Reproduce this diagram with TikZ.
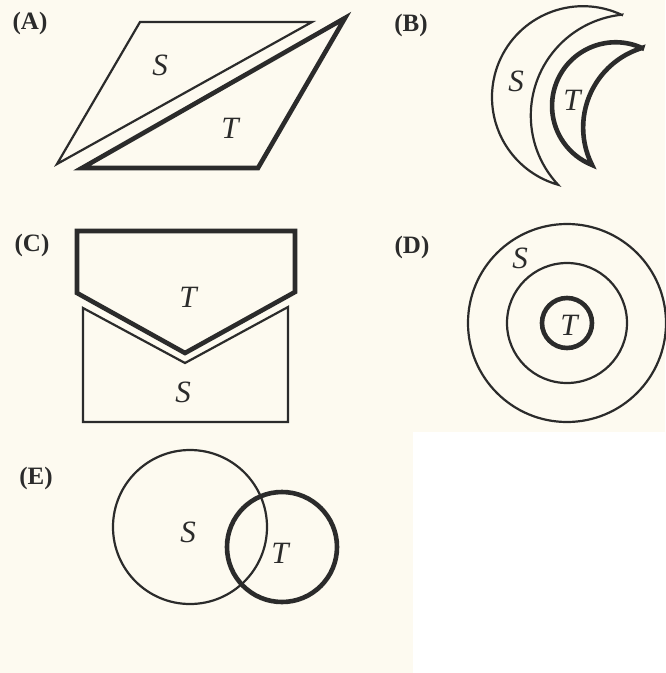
\documentclass[tikz,border=0pt]{standalone}
\usepackage{fontspec}
\setmainfont{Liberation Serif}
\usepackage{xcolor}
\definecolor{paperCream}{HTML}{FDFAF0}
\definecolor{inkDark}{HTML}{2B2B2B}
\usepackage{tikz}
\usetikzlibrary{calc}
\tikzset{
  thinline/.style={draw=inkDark,line width=2.2pt,line join=miter},
  thickline/.style={draw=inkDark,line width=4.6pt,line join=miter},
  panellabel/.style={font=\fontsize{25}{27}\selectfont\bfseries,text=inkDark,inner sep=0pt},
  setlabel/.style={font=\fontsize{31}{33}\selectfont\itshape,text=inkDark,inner sep=0pt},
}

\begin{document}
\begin{tikzpicture}[x=1pt,y=-1pt]
  \useasboundingbox (0,0) rectangle (665,673);
  \fill[paperCream] (0,0) rectangle (665,673);
  \fill[white] (413,432) rectangle (665,673);

  % (A) two triangles along a diagonal
  \node[panellabel] (labA) at (30,23) {(A)};
  \coordinate (sa1) at (140,22);
  \coordinate (sa2) at (312,22);
  \coordinate (sa3) at (57,164);
  \draw[thinline] (sa1) -- (sa2) -- (sa3) -- cycle;
  \coordinate (ta1) at (345,18);
  \coordinate (ta2) at (258,168);
  \coordinate (ta3) at (82,168);
  \draw[thickline] (ta1) -- (ta2) -- (ta3) -- cycle;
  \node[setlabel] (aS) at (160,65) {S};
  \node[setlabel] (aT) at (230,128) {T};

  % (B) two crescents
  \node[panellabel] (labB) at (411,25) {(B)};
  \coordinate (bsTop) at (622,15);
  \draw[thinline] (bsTop) arc[start angle=-64.6, end angle=-254.1, radius=91]
    arc[start angle=137, end angle=264.3, radius=101.4] -- cycle;
  \coordinate (btTop) at (642,48);
  \draw[thickline] (btTop) arc[start angle=-65.5, end angle=-248.2, radius=63.6]
    arc[start angle=153.3, end angle=253, radius=83.2] -- cycle;
  \node[setlabel] (bS) at (516,81) {S};
  \node[setlabel] (bT) at (572,100) {T};

  % (C) pentagon over notched box
  \node[panellabel] (labC) at (32,245) {(C)};
  \draw[thickline] (77,231) -- (295,231) -- (295,292) -- (185,353) -- (77,293) -- cycle;
  \draw[thinline] (83,308) -- (185,363) -- (288,307) -- (288,422) -- (83,422) -- cycle;
  \node[setlabel] (cT) at (188,297) {T};
  \node[setlabel] (cS) at (183,392) {S};

  % (D) concentric rings
  \node[panellabel] (labD) at (412,247) {(D)};
  \coordinate (dc) at (567,323);
  \draw[thinline] (dc) circle[radius=99];
  \draw[thinline] (dc) circle[radius=60];
  \draw[thickline] (dc) circle[radius=25];
  \node[setlabel] (dS) at (520,258) {S};
  \node[setlabel] (dT) at (569,325) {T};

  % (E) overlapping circles
  \node[panellabel] (labE) at (36,478) {(E)};
  \draw[thinline] (190,527) circle[radius=77];
  \draw[thickline] (282,547) circle[radius=55];
  \node[setlabel] (eS) at (188,532) {S};
  \node[setlabel] (eT) at (280,553) {T};
\end{tikzpicture}
\end{document}
